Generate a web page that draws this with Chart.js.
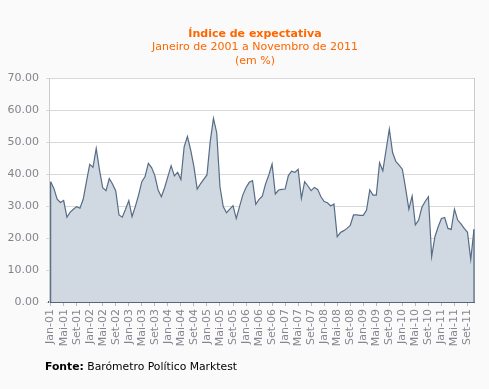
<!DOCTYPE html>
<html><head><meta charset="utf-8">
<script src="https://cdn.jsdelivr.net/npm/chart.js@4/dist/chart.umd.min.js"></script>
<style>
html,body{margin:0;padding:0;background:#fafafa;}
#wrap{position:relative;width:489px;height:389px;overflow:hidden;}
canvas{position:absolute;left:0;top:0;}
.t{position:absolute;left:0;width:510px;text-align:center;color:#ff6600;font-family:"DejaVu Sans",sans-serif;font-size:11px;line-height:13px;}
#src{position:absolute;left:45px;top:360px;font-family:"DejaVu Sans",sans-serif;font-size:10.8px;line-height:13px;color:#000;}
</style></head><body>
<div id="wrap">
<canvas id="c" width="489" height="389"></canvas>
<div class="t" style="top:27px;font-weight:bold">Índice de expectativa</div>
<div class="t" style="top:40px">Janeiro de 2001 a Novembro de 2011</div>
<div class="t" style="top:54px">(em %)</div>
<div id="src"><b>Fonte:</b> Barómetro Político Marktest</div>
</div>
<script>
// Month names (Portuguese) and years
const MONTHS = ['Jan','Fev','Mar','Abr','Mai','Jun','Jul','Ago','Set','Out','Nov','Dez'];
const YEARS = ['01','02','03','04','05','06','07','08','09','10','11'];

// Índice de expectativa (%), Jan-2001 .. Nov-2011
const VALUES_2001 = [37.6, 35.5, 32.1, 31.1, 31.7, 26.5, 28.1, 29.0, 29.8, 29.3, 32.1, 37.6];
const VALUES_2002 = [43.0, 42.1, 48.0, 41.3, 35.7, 34.8, 38.6, 36.9, 34.7, 27.2, 26.5, 29.0];
const VALUES_2003 = [31.7, 26.7, 29.8, 33.4, 37.6, 39.2, 43.3, 42.0, 39.5, 35.0, 32.9, 35.7];
const VALUES_2004 = [39.2, 42.6, 39.4, 40.5, 38.3, 48.5, 51.7, 47.5, 42.3, 35.3, 36.9, 38.3];
const VALUES_2005 = [39.7, 50.1, 57.4, 52.9, 36.0, 29.8, 27.9, 29.0, 30.1, 26.1, 29.8, 33.4];
const VALUES_2006 = [35.8, 37.4, 37.9, 30.5, 32.1, 33.1, 36.9, 39.7, 43.1, 33.75, 35.0, 35.2];
const VALUES_2007 = [35.3, 39.5, 40.9, 40.5, 41.5, 32.4, 37.6, 36.25, 34.8, 35.8, 35.2, 32.9];
const VALUES_2008 = [31.4, 31.0, 30.0, 30.6, 20.4, 21.7, 22.3, 23.0, 23.9, 27.2, 27.2, 27.1];
const VALUES_2009 = [27.1, 28.75, 35.0, 33.4, 33.4, 43.5, 41.0, 47.5, 54.0, 46.7, 43.9, 42.8];
const VALUES_2010 = [41.5, 35.5, 29.0, 33.1, 24.1, 25.6, 29.6, 31.4, 32.9, 14.2, 20.4, 23.5];
const VALUES_2011 = [26.1, 26.4, 23.0, 22.7, 29.0, 25.6, 24.4, 23.0, 21.8, 13.3, 22.7];

const VALUES = [].concat(VALUES_2001, VALUES_2002, VALUES_2003, VALUES_2004, VALUES_2005,
  VALUES_2006, VALUES_2007, VALUES_2008, VALUES_2009, VALUES_2010, VALUES_2011);

const MONTH_LABELS = [];
YEARS.forEach(y => MONTHS.forEach(m => MONTH_LABELS.push(m + '-' + y)));
MONTH_LABELS.length = VALUES.length;

// x-axis labels shown every 4 months
const TICK_EVERY = 4;
const Y_TICKS = [0, 10, 20, 30, 40, 50, 60, 70];

const LINE = '#566c86';
const FILL = '#d0d8e1';

const framePlugin = {
  id: 'frame',
  beforeDraw(chart) {
    const {ctx, chartArea: a} = chart;
    ctx.save();
    ctx.fillStyle = '#ffffff';
    ctx.fillRect(a.left, a.top, a.right - a.left, a.bottom - a.top);
    ctx.restore();
  },
  afterDatasetsDraw(chart) {
    const {ctx, chartArea: a, scales} = chart;
    const meta = chart.getDatasetMeta(0);
    const y0 = scales.y.getPixelForValue(0);
    ctx.save();
    ctx.strokeStyle = '#cccccc';
    ctx.lineWidth = 1;
    ctx.beginPath();
    ctx.moveTo(Math.round(a.right) + 0.5, a.top);
    ctx.lineTo(Math.round(a.right) + 0.5, a.bottom);
    ctx.stroke();
    ctx.strokeStyle = LINE;
    ctx.lineWidth = 1.2;
    [meta.data[0], meta.data[meta.data.length - 1]].forEach(p => {
      ctx.beginPath();
      ctx.moveTo(p.x, p.y);
      ctx.lineTo(p.x, y0);
      ctx.stroke();
    });
    ctx.restore();
  }
};

new Chart(document.getElementById('c'), {
  type: 'line',
  data: {
    datasets: [{
      data: VALUES.map((v, i) => ({x: i, y: v})),
      borderColor: LINE,
      backgroundColor: FILL,
      borderWidth: 1.2,
      fill: 'origin',
      pointRadius: 0,
      tension: 0
    }]
  },
  options: {
    responsive: false,
    devicePixelRatio: 1,
    animation: false,
    layout: {padding: {top: 78, right: 15, left: 0, bottom: 0}},
    plugins: {legend: {display: false}, tooltip: {enabled: false}, title: {display: false}},
    scales: {
      x: {
        type: 'linear',
        min: -0.5,
        max: VALUES.length - 1,
        afterBuildTicks: s => {
          s.ticks = MONTH_LABELS.map((l, i) => i).filter(i => i % TICK_EVERY === 0).map(i => ({value: i}));
        },
        afterFit: s => { s.height = 87; },
        ticks: {
          autoSkip: false, maxRotation: 90, minRotation: 90, padding: 3,
          color: '#8a8490',
          font: {family: 'DejaVu Sans', size: 11},
          callback: v => MONTH_LABELS[v]
        },
        grid: {drawOnChartArea: false, drawTicks: true, tickLength: 4, color: '#bbbbbb'},
        border: {color: '#5a6676', width: 2}
      },
      y: {
        min: 0, max: 70,
        afterBuildTicks: s => { s.ticks = Y_TICKS.map(v => ({value: v})); },
        afterFit: s => { s.width = 49; },
        ticks: {
          padding: 7,
          color: '#86838c',
          font: {family: 'DejaVu Sans', size: 11},
          callback: v => v.toFixed(2)
        },
        grid: {color: '#d9d9d9', tickLength: 3},
        border: {color: '#cccccc'}
      }
    }
  },
  plugins: [framePlugin]
});
</script>
</body></html>
